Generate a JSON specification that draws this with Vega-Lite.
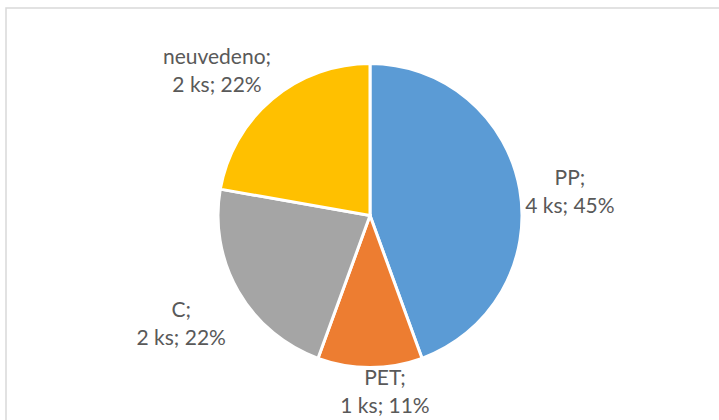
{
  "$schema": "https://vega.github.io/schema/vega-lite/v6.json",
  "width": 728,
  "height": 415,
  "padding": {"left": 6, "top": 8, "right": 0, "bottom": 0},
  "autosize": "none",
  "background": "white",
  "datasets": {
    "plasty": [
      {"druh": "PP", "pocet": 4, "poradi": 1, "popisek": "PP;\n4 ks; 45%"},
      {"druh": "PET", "pocet": 1, "poradi": 2, "popisek": "PET;\n1 ks; 11%"},
      {"druh": "C", "pocet": 2, "poradi": 3, "popisek": "C;\n2 ks; 22%"},
      {"druh": "neuvedeno", "pocet": 2, "poradi": 4, "popisek": "neuvedeno;\n2 ks; 22%"}
    ],
    "ramecek": [{"r": 1}]
  },
  "layer": [
    {
      "data": {"name": "ramecek"},
      "mark": {"type": "rect", "fill": null, "fillOpacity": 0, "stroke": "#d9d9d9", "strokeWidth": 1.5},
      "encoding": {}
    },
    {
      "data": {"name": "plasty"},
      "mark": {"type": "arc", "outerRadius": 152, "stroke": "white", "strokeWidth": 3},
      "encoding": {
        "theta": {"field": "pocet", "type": "quantitative", "stack": true},
        "order": {"field": "poradi", "type": "quantitative"},
        "color": {
          "field": "druh",
          "type": "nominal",
          "scale": {"domain": ["PP", "PET", "C", "neuvedeno"], "range": ["#5B9BD5", "#ED7D31", "#A5A5A5", "#FFC000"]},
          "legend": null
        }
      }
    },
    {
      "data": {"name": "plasty"},
      "mark": {"type": "text", "radius": 203, "dy": -1, "font": "Lato", "fontSize": 21, "lineHeight": 28, "color": "#595959", "lineBreak": "\n", "align": "center", "baseline": "middle"},
      "encoding": {
        "theta": {"field": "pocet", "type": "quantitative", "stack": true},
        "order": {"field": "poradi", "type": "quantitative"},
        "text": {"condition": {"test": "datum.druh === 'PP'", "field": "popisek"}, "value": ""}
      }
    },
    {
      "data": {"name": "plasty"},
      "mark": {"type": "text", "radius": 177, "dx": 15, "dy": -14, "font": "Lato", "fontSize": 21, "lineHeight": 28, "color": "#595959", "lineBreak": "\n", "align": "center", "baseline": "middle"},
      "encoding": {
        "theta": {"field": "pocet", "type": "quantitative", "stack": true},
        "order": {"field": "poradi", "type": "quantitative"},
        "text": {"condition": {"test": "datum.druh === 'PET'", "field": "popisek"}, "value": ""}
      }
    },
    {
      "data": {"name": "plasty"},
      "mark": {"type": "text", "radius": 218, "dy": -14, "font": "Lato", "fontSize": 21, "lineHeight": 28, "color": "#595959", "lineBreak": "\n", "align": "center", "baseline": "middle"},
      "encoding": {
        "theta": {"field": "pocet", "type": "quantitative", "stack": true},
        "order": {"field": "poradi", "type": "quantitative"},
        "text": {"condition": {"test": "datum.druh === 'C'", "field": "popisek"}, "value": ""}
      }
    },
    {
      "data": {"name": "plasty"},
      "mark": {"type": "text", "radius": 210, "dx": -18, "dy": 3, "font": "Lato", "fontSize": 21, "lineHeight": 28, "color": "#595959", "lineBreak": "\n", "align": "center", "baseline": "middle"},
      "encoding": {
        "theta": {"field": "pocet", "type": "quantitative", "stack": true},
        "order": {"field": "poradi", "type": "quantitative"},
        "text": {"condition": {"test": "datum.druh === 'neuvedeno'", "field": "popisek"}, "value": ""}
      }
    }
  ]
}
